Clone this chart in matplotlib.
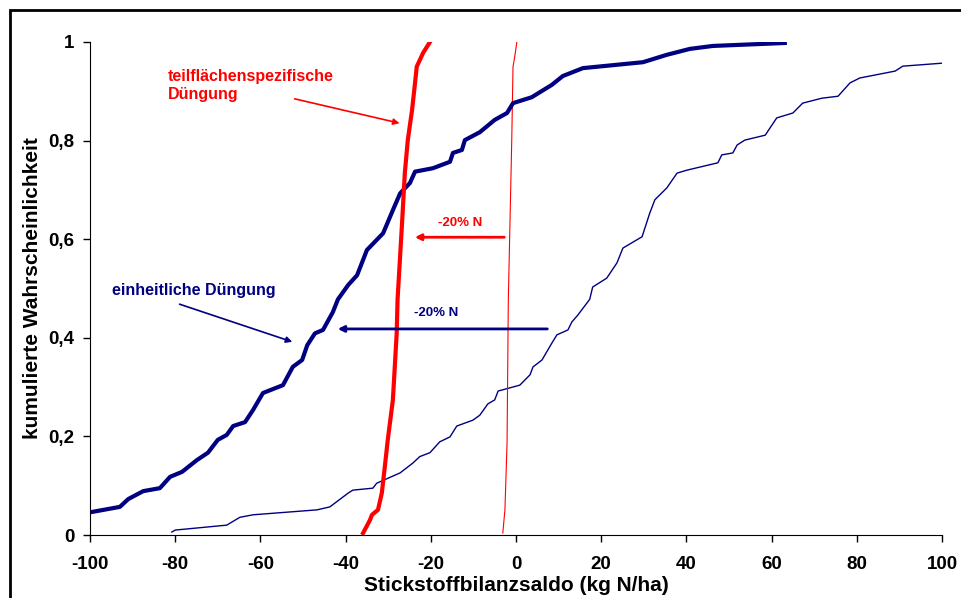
import matplotlib.pyplot as plt
from matplotlib.patches import Rectangle

plt.rcParams['font.family'] = ['Liberation Sans', 'DejaVu Sans']
plt.rcParams['font.weight'] = 'bold'
plt.rcParams['axes.unicode_minus'] = False

NAVY = '#000080'
RED = '#ff0000'

# einheitliche Düngung, -20% N (thick navy)
uni_new_x = [-100, -93, -91, -87.5, -83.6, -81.2, -78.4, -74.9, -72.3, -70, -67.9, -66.4,
             -63.6, -61.7, -59.4, -54.7, -52.4, -50.2, -49, -47.2, -45.3, -43, -41.8,
             -39.4, -37.3, -35, -31.2, -28.9, -27.2, -24.9, -23.7, -19.5, -15.5, -14.8,
             -12.7, -12, -8.5, -5, -2.1, -0.7, 3.7, 8.4, 11, 15.7, 29.8, 35.4, 40.8, 46.2, 63.1]
uni_new_y = [0.046, 0.057, 0.073, 0.089, 0.095, 0.118, 0.128, 0.152, 0.167, 0.193, 0.203, 0.221,
             0.229, 0.254, 0.288, 0.304, 0.341, 0.355, 0.385, 0.409, 0.416, 0.452, 0.478,
             0.507, 0.527, 0.578, 0.612, 0.659, 0.693, 0.714, 0.737, 0.744, 0.757, 0.775,
             0.781, 0.801, 0.817, 0.842, 0.856, 0.876, 0.888, 0.913, 0.931, 0.947, 0.959, 0.974, 0.986, 0.992, 0.998]

# einheitliche Düngung, Ausgangssituation (thin navy)
uni_old_x = [-80.8, -80, -67.9, -64.8, -61.7, -46.7, -43.7, -39.4, -38.3, -33.6, -32.7, -27.2,
             -24.2, -22.6, -20.2, -17.9, -15.5, -13.9, -10.1, -8.5, -6.6, -5, -4.2, 0.9, 3.3,
             4, 6.1, 8.4, 9.6, 12.2, 13.1, 14.5, 17.3, 18, 21.3, 23.7, 25.1, 29.6, 31.4, 32.6,
             35.4, 37.8, 40.1, 47.4, 48.3, 50.9, 51.9, 53.7, 58.5, 61.2, 65, 67.3, 71.8, 75.6,
             78.4, 80.7, 89, 90.8, 100]
uni_old_y = [0.006, 0.01, 0.02, 0.036, 0.041, 0.051, 0.057, 0.085, 0.091, 0.095, 0.105, 0.126,
             0.146, 0.159, 0.167, 0.189, 0.199, 0.221, 0.233, 0.243, 0.266, 0.274, 0.292, 0.304, 0.325,
             0.341, 0.355, 0.389, 0.406, 0.416, 0.432, 0.446, 0.478, 0.503, 0.521, 0.552, 0.582, 0.605, 0.653, 0.680,
             0.704, 0.734, 0.740, 0.755, 0.771, 0.775, 0.791, 0.801, 0.811, 0.846, 0.856, 0.876, 0.886, 0.890,
             0.917, 0.927, 0.941, 0.951, 0.957]

# teilflächenspezifische Düngung, -20% N (thick red)
site_new_x = [-35.9, -34.3, -33.8, -32.4, -31.5, -30.8, -30.1, -28.9, -28, -27.8, -26.8, -26.1,
              -25.4, -24.4, -23.7, -23.3, -22.6, -21.8, -20.2]
site_new_y = [0.004, 0.030, 0.041, 0.051, 0.085, 0.138, 0.193, 0.274, 0.41, 0.478, 0.625, 0.734,
              0.801, 0.862, 0.917, 0.95, 0.963, 0.978, 1.0]

# teilflächenspezifische Düngung, Ausgangssituation (thin red)
site_old_x = [-3.1, -2.6, -2.1, -1.8, -1.0, -0.7, -0.3, 0.2]
site_old_y = [0.004, 0.051, 0.187, 0.478, 0.80, 0.95, 0.97, 1.0]

fig = plt.figure(figsize=(9.62, 5.98), dpi=100)
ax = fig.add_axes([90 / 962, 63 / 598, 852 / 962, 493 / 598])

ax.plot(uni_old_x, uni_old_y, color=NAVY, lw=1.0)
ax.plot(site_old_x, site_old_y, color=RED, lw=0.8)
ax.plot(uni_new_x, uni_new_y, color=NAVY, lw=3.0)
ax.plot(site_new_x, site_new_y, color=RED, lw=3.0)

ax.set_xlim(-100, 100)
ax.set_ylim(0, 1)
ax.set_xticks(range(-100, 101, 20))
ax.set_yticks([0, 0.2, 0.4, 0.6, 0.8, 1])
ax.set_yticklabels(['0', '0,2', '0,4', '0,6', '0,8', '1'])
ax.tick_params(labelsize=13.5, length=5, direction='out', width=1)
ax.tick_params(axis='x', pad=10)
ax.tick_params(axis='y', pad=6)
for lab in ax.get_xticklabels() + ax.get_yticklabels():
    lab.set_fontweight('bold')
ax.spines['top'].set_visible(False)
ax.spines['right'].set_visible(False)
ax.set_xlabel('Stickstoffbilanzsaldo (kg N/ha)', fontsize=15, fontweight='bold', labelpad=2)
ax.set_ylabel('kumulierte Wahrscheinlichkeit', fontsize=15, fontweight='bold', labelpad=5)

# annotations
ax.text(-81.7, 0.912, 'teilflächenspezifische\nDüngung', color=RED, fontsize=11.5,
        fontweight='bold', va='center', ha='left', linespacing=1.3)
ax.annotate('', xy=(-26.7, 0.834), xytext=(-52.6, 0.886),
            arrowprops=dict(arrowstyle='-|>', color=RED, lw=1.2, mutation_scale=9))
ax.text(-94.8, 0.495, 'einheitliche Düngung', color=NAVY, fontsize=11.5,
        fontweight='bold', va='center', ha='left')
ax.annotate('', xy=(-51.9, 0.39), xytext=(-79.6, 0.47),
            arrowprops=dict(arrowstyle='-|>', color=NAVY, lw=1.2, mutation_scale=9))

ax.text(-13.2, 0.633, '-20% N', color=RED, fontsize=9.5, fontweight='bold', ha='center', va='center')
ax.annotate('', xy=(-24.4, 0.604), xytext=(-2.1, 0.604),
            arrowprops=dict(arrowstyle='-|>', color=RED, lw=2, mutation_scale=9))
ax.text(-18.8, 0.45, '-20% N', color=NAVY, fontsize=9.5, fontweight='bold', ha='center', va='center')
ax.annotate('', xy=(-42.5, 0.418), xytext=(8, 0.418),
            arrowprops=dict(arrowstyle='-|>', color=NAVY, lw=2, mutation_scale=9))

# frame around the figure
fig.patches.append(Rectangle((10 / 962, -0.1), 1.2, 1.1 - 10 / 598, transform=fig.transFigure,
                             fill=False, edgecolor='black', lw=2))

fig.savefig('out.png', dpi=100)
